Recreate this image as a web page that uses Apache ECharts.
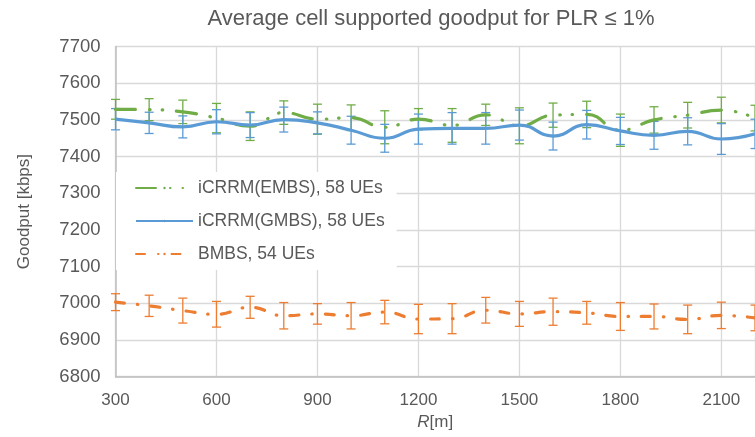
<!DOCTYPE html>
<html>
<head>
<meta charset="utf-8">
<script src="https://cdn.jsdelivr.net/npm/echarts@6/dist/echarts.min.js"></script>
<style>html,body{margin:0;padding:0;background:#fff}#c{width:755px;height:437px}</style>
</head>
<body>
<div id="c"></div>
<script>
var xValues = [300, 400, 500, 600, 700, 800, 900, 1000, 1100, 1200, 1300, 1400, 1500, 1600, 1700, 1800, 1900, 2000, 2100, 2200];
var embs    = [7529, 7528, 7522, 7505, 7483, 7520, 7502, 7506, 7480, 7502, 7485, 7514, 7484, 7513, 7515, 7472, 7500, 7513, 7527, 7505];
var embsErr = [27, 30, 32, 40, 39, 32, 41, 35, 45, 29, 46, 29, 49, 33, 36, 44, 36, 35, 35, 35];
var gmbs    = [7502, 7492, 7481, 7495, 7486, 7501, 7492, 7472, 7450, 7475, 7477, 7477, 7486, 7456, 7487, 7470, 7458, 7469, 7448, 7462];
var gmbsErr = [29, 29, 30, 33, 34, 34, 30, 38, 38, 41, 43, 43, 41, 38, 39, 37, 38, 37, 42, 40];
var bmbs    = [7003, 6993, 6980, 6970, 6989, 6966, 6971, 6966, 6976, 6957, 6958, 6981, 6971, 6977, 6974, 6964, 6964, 6956, 6967, 6960];
var bmbsErr = [23, 29, 34, 35, 30, 36, 28, 36, 32, 40, 41, 35, 34, 37, 31, 38, 34, 39, 36, 35];
var yTicks = [6800, 6900, 7000, 7100, 7200, 7300, 7400, 7500, 7600, 7700];
var names = ['iCRRM(EMBS), 58 UEs', 'iCRRM(GMBS), 58 UEs', 'BMBS, 54 UEs'];
var colors = ['#70ad47', '#5b9bd5', '#ed7d31'];

function pairs(ys) { return xValues.map(function (x, i) { return [x, ys[i]]; }); }
function errData(ys, es) { return xValues.map(function (x, i) { return [x, ys[i] - es[i], ys[i] + es[i]]; }); }
function errSeries(ys, es, color) {
  return {
    type: 'custom',
    data: errData(ys, es),
    z: 3,
    silent: true,
    renderItem: function (params, api) {
      var x = api.value(0);
      var lo = api.coord([x, api.value(1)]);
      var hi = api.coord([x, api.value(2)]);
      var w = 4.5;
      var st = { stroke: color, lineWidth: 1.3 };
      return {
        type: 'group',
        children: [
          { type: 'line', shape: { x1: lo[0], y1: lo[1], x2: hi[0], y2: hi[1] }, style: st },
          { type: 'line', shape: { x1: lo[0] - w, y1: lo[1], x2: lo[0] + w, y2: lo[1] }, style: st },
          { type: 'line', shape: { x1: hi[0] - w, y1: hi[1], x2: hi[0] + w, y2: hi[1] }, style: st }
        ]
      };
    }
  };
}

var chart = echarts.init(document.getElementById('c'), null, { renderer: 'canvas' });
var font = 'Liberation Sans, Arial, Helvetica, sans-serif';
chart.setOption({
  animation: false,
  textStyle: { fontFamily: font },
  title: {
    text: 'Average cell supported goodput for PLR \u2264 1%',
    left: 426, top: 3, textAlign: 'center',
    textStyle: { fontSize: 22, fontWeight: 'normal', color: '#595959', fontFamily: font }
  },
  grid: { left: 115.5, right: -9, top: 46.6, bottom: 60.4, containLabel: false },
  legend: {
    orient: 'vertical',
    left: 116, top: 172,
    backgroundColor: '#ffffff',
    padding: [7, 12, 7, 19],
    itemWidth: 57, itemHeight: 3, itemGap: 15,
    textStyle: { fontSize: 17.5, color: '#595959', fontFamily: font },
    data: names
  },
  xAxis: {
    type: 'value', min: 300, max: 2200, interval: 300,
    name: '{i|R}[m]', nameLocation: 'middle', nameGap: 36,
    nameTextStyle: { fontSize: 17, color: '#595959', rich: { i: { fontStyle: 'italic', fontSize: 17, color: '#595959' } } },
    axisLine: { show: true, lineStyle: { color: '#bfbfbf', width: 1.5 } },
    axisTick: { show: false },
    axisLabel: { fontSize: 17, color: '#595959', margin: 15, showMaxLabel: false, formatter: function (v) { return String(v); } },
    splitLine: { show: true, lineStyle: { color: '#d9d9d9', width: 1.3 } }
  },
  yAxis: {
    type: 'value', min: yTicks[0], max: yTicks[yTicks.length - 1], interval: 100,
    name: 'Goodput [kbps]', nameLocation: 'middle', nameGap: 83,
    nameTextStyle: { fontSize: 17, color: '#595959' },
    axisLine: { show: true, lineStyle: { color: '#bfbfbf', width: 1.5 } },
    axisTick: { show: false },
    axisLabel: { fontSize: 18.5, color: '#595959', margin: 15, formatter: function (v) { return String(v); } },
    splitLine: { show: true, lineStyle: { color: '#d9d9d9', width: 1.3 } }
  },
  series: [
    errSeries(embs, embsErr, colors[0]),
    errSeries(gmbs, gmbsErr, colors[1]),
    errSeries(bmbs, bmbsErr, colors[2]),
    {
      name: names[0], type: 'line', data: pairs(embs), smooth: 0.5, symbol: 'none', z: 4,
      color: colors[0],
      lineStyle: { color: colors[0], width: 3.2, type: [20, 14, 0.5, 12, 0.5, 14], cap: 'round' }
    },
    {
      name: names[1], type: 'line', data: pairs(gmbs), smooth: 0.5, symbol: 'none', z: 4,
      color: colors[1],
      lineStyle: { color: colors[1], width: 3.2, type: 'solid' }
    },
    {
      name: names[2], type: 'line', data: pairs(bmbs), smooth: 0.5, symbol: 'none', z: 4,
      color: colors[2],
      lineStyle: { color: colors[2], width: 3.2, type: [9, 13, 0.5, 13], cap: 'round' }
    }
  ]
});
</script>
</body>
</html>
